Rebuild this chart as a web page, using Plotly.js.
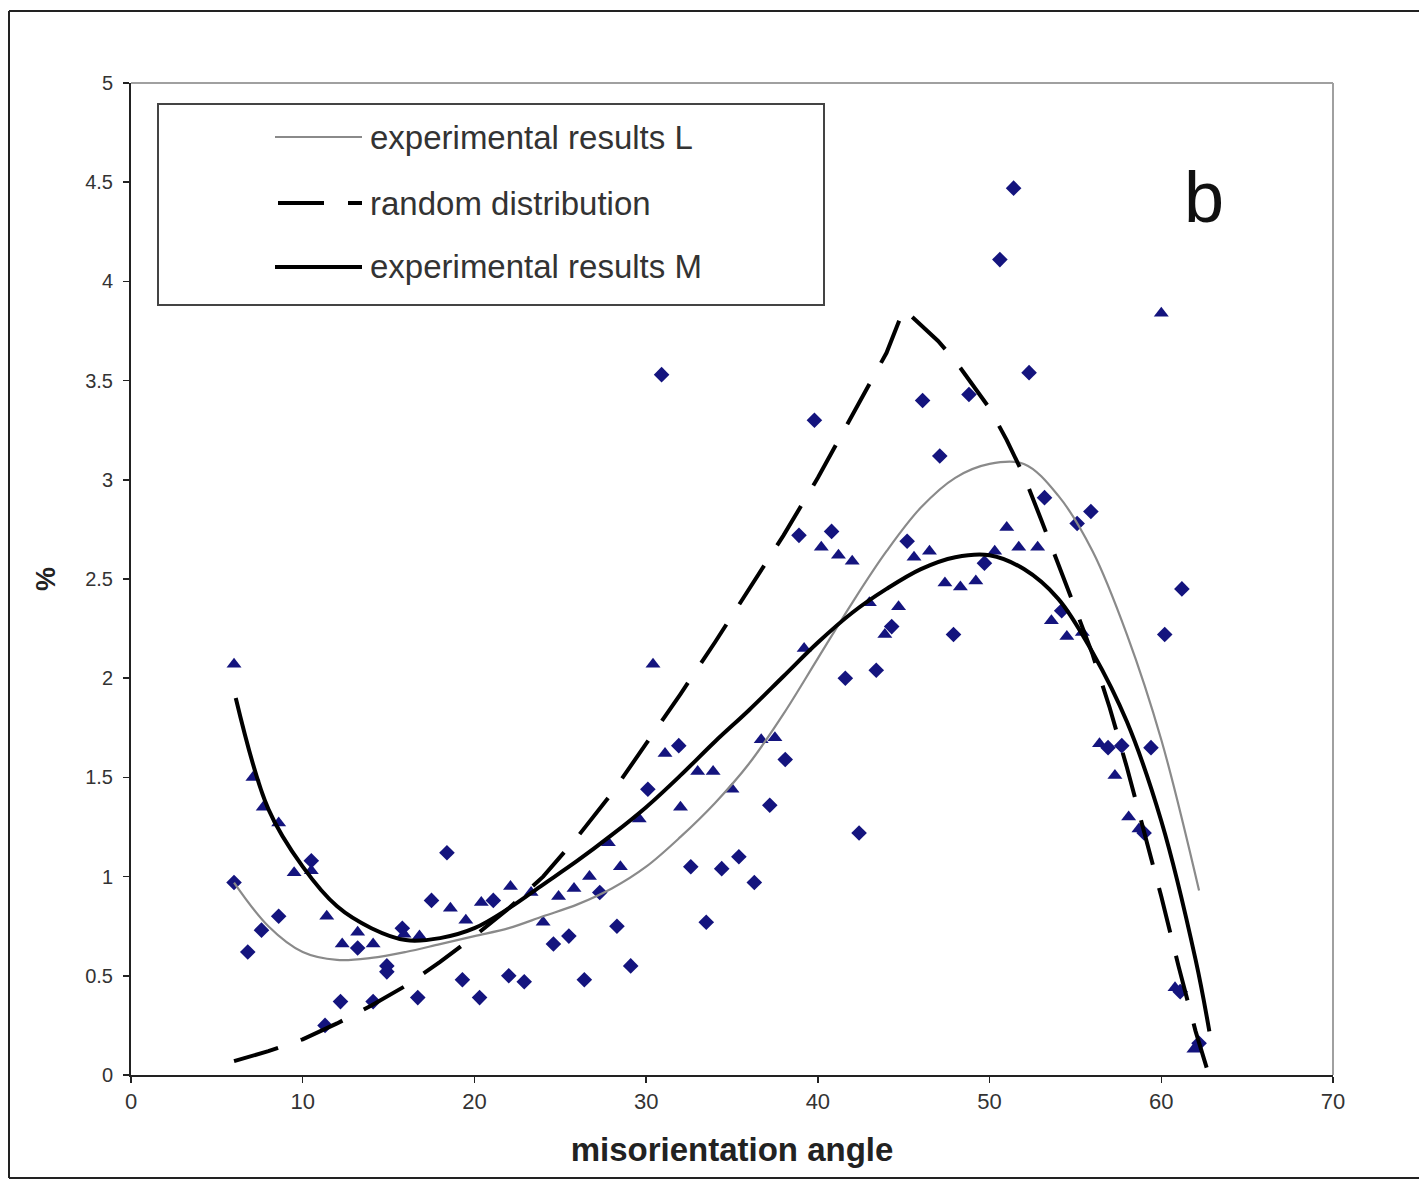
<!DOCTYPE html>
<html>
<head>
<meta charset="utf-8">
<script src="https://cdn.plot.ly/plotly-3.0.1.min.js"></script>
<style>html,body{margin:0;padding:0;background:#fff;}#chart{width:1419px;height:1183px;}</style>
</head>
<body>
<div id="chart"></div>
<script>
// ---- data ----
// scatter: diamonds (L measurements)
const diamondX = [6.0, 6.8, 7.6, 8.6, 10.5, 11.3, 12.2, 13.2, 14.1, 14.9, 14.9, 15.8, 16.7, 17.5, 18.4, 19.3, 20.3, 21.1, 22.0, 22.9, 24.6, 25.5, 26.4, 27.3, 28.3, 29.1, 30.1, 30.9, 31.9, 32.6, 33.5, 34.4, 35.4, 36.3, 37.2, 38.1, 38.9, 39.8, 40.8, 41.6, 42.4, 43.4, 44.3, 45.2, 46.1, 47.1, 47.9, 48.8, 49.7, 50.6, 51.4, 52.3, 53.2, 54.2, 55.1, 55.9, 56.9, 57.7, 59.0, 59.4, 60.2, 61.1, 61.2, 62.2];
const diamondY = [0.97, 0.62, 0.73, 0.80, 1.08, 0.25, 0.37, 0.64, 0.37, 0.55, 0.52, 0.74, 0.39, 0.88, 1.12, 0.48, 0.39, 0.88, 0.50, 0.47, 0.66, 0.70, 0.48, 0.92, 0.75, 0.55, 1.44, 3.53, 1.66, 1.05, 0.77, 1.04, 1.10, 0.97, 1.36, 1.59, 2.72, 3.30, 2.74, 2.00, 1.22, 2.04, 2.26, 2.69, 3.40, 3.12, 2.22, 3.43, 2.58, 4.11, 4.47, 3.54, 2.91, 2.34, 2.78, 2.84, 1.65, 1.66, 1.22, 1.65, 2.22, 0.42, 2.45, 0.16];
// scatter: triangles (M measurements)
const triangleX = [6.0, 7.1, 7.7, 8.6, 9.5, 10.5, 11.4, 12.3, 13.2, 14.1, 15.9, 16.8, 18.6, 19.5, 20.4, 22.1, 23.3, 24.0, 24.9, 25.8, 26.7, 27.8, 28.5, 29.6, 30.4, 31.1, 32.0, 33.0, 33.9, 35.0, 36.7, 37.5, 39.2, 40.2, 41.2, 42.0, 43.0, 43.9, 44.7, 45.6, 46.5, 47.4, 48.3, 49.2, 50.3, 51.0, 51.7, 52.8, 53.6, 54.5, 55.4, 56.4, 57.3, 58.1, 58.7, 60.0, 60.8, 61.9];
const triangleY = [2.07, 1.50, 1.35, 1.27, 1.02, 1.03, 0.80, 0.66, 0.72, 0.66, 0.71, 0.70, 0.84, 0.78, 0.87, 0.95, 0.92, 0.77, 0.90, 0.94, 1.00, 1.17, 1.05, 1.29, 2.07, 1.62, 1.35, 1.53, 1.53, 1.44, 1.69, 1.70, 2.15, 2.66, 2.62, 2.59, 2.38, 2.22, 2.36, 2.61, 2.64, 2.48, 2.46, 2.49, 2.64, 2.76, 2.66, 2.66, 2.29, 2.21, 2.23, 1.67, 1.51, 1.30, 1.24, 3.84, 0.44, 0.13];
// fitted curve: experimental results L (thin grey)
const fitLX = [6, 8, 10, 12, 14, 16, 18, 20, 22, 24, 26, 28, 30, 32, 34, 36, 38, 40, 42, 44, 46, 48, 50, 52, 54, 56, 58, 60, 62.2];
const fitLY = [0.97, 0.75, 0.62, 0.58, 0.59, 0.62, 0.66, 0.70, 0.74, 0.80, 0.86, 0.94, 1.05, 1.20, 1.37, 1.57, 1.82, 2.10, 2.38, 2.64, 2.86, 3.01, 3.08, 3.08, 2.92, 2.64, 2.22, 1.69, 0.93];
// random distribution (dashed)
const randX = [6, 8, 10, 12, 14, 16, 18, 20, 22, 24, 26, 28, 30, 32, 34, 36, 38, 40, 42, 44, 45, 46, 47, 48, 49, 50, 51, 52, 53, 54, 55, 56, 57, 58, 59, 60, 61, 62, 62.7];
const randY = [0.07, 0.12, 0.18, 0.26, 0.35, 0.45, 0.57, 0.70, 0.84, 1.00, 1.20, 1.42, 1.67, 1.92, 2.18, 2.45, 2.72, 3.01, 3.32, 3.64, 3.86, 3.78, 3.70, 3.60, 3.48, 3.36, 3.20, 3.02, 2.80, 2.58, 2.35, 2.12, 1.85, 1.55, 1.22, 0.90, 0.55, 0.22, 0.02];
// fitted curve: experimental results M (thick black)
const fitMX = [6.1, 8, 10, 12, 14, 16, 18, 20, 22, 24, 26, 28, 30, 32, 34, 36, 38, 40, 42, 44, 46, 48, 50, 52, 54, 56, 58, 60, 62, 62.8];
const fitMY = [1.90, 1.34, 1.05, 0.85, 0.74, 0.68, 0.69, 0.74, 0.84, 0.96, 1.08, 1.21, 1.35, 1.51, 1.68, 1.84, 2.01, 2.18, 2.33, 2.45, 2.55, 2.61, 2.62, 2.55, 2.40, 2.13, 1.78, 1.28, 0.58, 0.22];

const legendNames = ["experimental results L", "random distribution", "experimental results M"];
const xTickVals = [0, 10, 20, 30, 40, 50, 60, 70];
const yTickVals = [0, 0.5, 1, 1.5, 2, 2.5, 3, 3.5, 4, 4.5, 5];

// ---- layout helpers (pixel -> paper) ----
const L = 131, R = 1333, T = 83, B = 1075, W = 1419, H = 1183;
const px = v => (v - L) / (R - L);
const py = v => (B - v) / (B - T);

const navy = '#14147e';
const traces = [
  {x: diamondX, y: diamondY, type: 'scatter', mode: 'markers', showlegend: false,
   marker: {symbol: 'diamond', size: 12, color: navy}},
  {x: triangleX, y: triangleY, type: 'scatter', mode: 'markers', showlegend: false,
   marker: {symbol: 'triangle-up', size: 13, color: navy}},
  {x: fitLX, y: fitLY, type: 'scatter', mode: 'lines', name: legendNames[0], showlegend: false,
   line: {color: '#8a8a8a', width: 2.2, shape: 'spline', smoothing: 1}},
  {x: randX, y: randY, type: 'scatter', mode: 'lines', name: legendNames[1], showlegend: false,
   line: {color: '#000', width: 4, dash: '46px,24px', shape: 'linear'}},
  {x: fitMX, y: fitMY, type: 'scatter', mode: 'lines', name: legendNames[2], showlegend: false,
   line: {color: '#000', width: 4, shape: 'spline', smoothing: 1}}
];

const shapes = [
  // outer chart-area frame
  {type: 'line', xref: 'paper', yref: 'paper', x0: px(9), x1: px(1419), y0: py(11), y1: py(11), line: {color: '#222', width: 2}},
  {type: 'line', xref: 'paper', yref: 'paper', x0: px(9), x1: px(9), y0: py(11), y1: py(1178), line: {color: '#222', width: 2}},
  {type: 'line', xref: 'paper', yref: 'paper', x0: px(9), x1: px(1419), y0: py(1178), y1: py(1178), line: {color: '#222', width: 2}},
  // grey plot-area border top/right
  {type: 'line', xref: 'paper', yref: 'paper', x0: 0, x1: 1, y0: 1, y1: 1, line: {color: '#a0a0a0', width: 2}},
  {type: 'line', xref: 'paper', yref: 'paper', x0: 1, x1: 1, y0: 0, y1: 1, line: {color: '#a0a0a0', width: 2}},
  // legend box
  {type: 'rect', xref: 'paper', yref: 'paper', x0: px(158), x1: px(824), y0: py(305), y1: py(104),
   line: {color: '#444', width: 2}, fillcolor: '#fff', layer: 'above'},
  // legend samples
  {type: 'line', xref: 'paper', yref: 'paper', x0: px(275), x1: px(362), y0: py(137), y1: py(137), line: {color: '#8a8a8a', width: 2.2}, layer: 'above'},
  {type: 'line', xref: 'paper', yref: 'paper', x0: px(278), x1: px(362), y0: py(203), y1: py(203), line: {color: '#000', width: 4, dash: '46px,24px'}, layer: 'above'},
  {type: 'line', xref: 'paper', yref: 'paper', x0: px(275), x1: px(362), y0: py(267), y1: py(267), line: {color: '#000', width: 4}, layer: 'above'}
];

const legendY = [137, 203, 267];
const annotations = legendNames.map((t, i) => ({
  text: t, xref: 'paper', yref: 'paper', x: px(368), y: py(legendY[i]), xanchor: 'left', yanchor: 'middle',
  showarrow: false, font: {family: 'Liberation Sans, Arial, sans-serif', size: 33, color: '#333'}
}));
annotations.push({text: 'b', xref: 'paper', yref: 'paper', x: px(1204), y: py(197), xanchor: 'center', yanchor: 'middle',
  showarrow: false, font: {family: 'Liberation Sans, Arial, sans-serif', size: 72, color: '#111'}});

const layout = {
  width: W, height: H,
  margin: {l: L, r: W - R, t: T, b: H - B, pad: 0},
  paper_bgcolor: '#fff', plot_bgcolor: '#fff',
  showlegend: false,
  xaxis: {
    range: [0, 70], tickvals: xTickVals, ticktext: xTickVals.map(String),
    showgrid: false, zeroline: false, showline: true, linecolor: '#222', linewidth: 2,
    ticks: 'outside', ticklen: 6, tickwidth: 1.5, tickcolor: '#222',
    tickfont: {family: 'Liberation Sans Narrow, Arial Narrow, Arial, sans-serif', size: 22, color: '#333'},
    title: {text: '<b>misorientation angle</b>', standoff: 24,
      font: {family: 'Liberation Sans, Arial, sans-serif', size: 33, color: '#222'}}
  },
  yaxis: {
    range: [0, 5], tickvals: yTickVals, ticktext: yTickVals.map(String),
    showgrid: false, zeroline: false, showline: true, linecolor: '#222', linewidth: 2,
    ticks: 'outside', ticklen: 6, tickwidth: 1.5, tickcolor: '#222', ticklabelstandoff: 6,
    tickfont: {family: 'Liberation Sans, Arial, sans-serif', size: 20, color: '#333'},
    title: {text: '<b>%</b>', standoff: 22,
      font: {family: 'Liberation Sans, Arial, sans-serif', size: 27, color: '#222'}}
  },
  shapes: shapes,
  annotations: annotations
};

Plotly.newPlot('chart', traces, layout, {displayModeBar: false, staticPlot: true});
</script>
</body>
</html>
